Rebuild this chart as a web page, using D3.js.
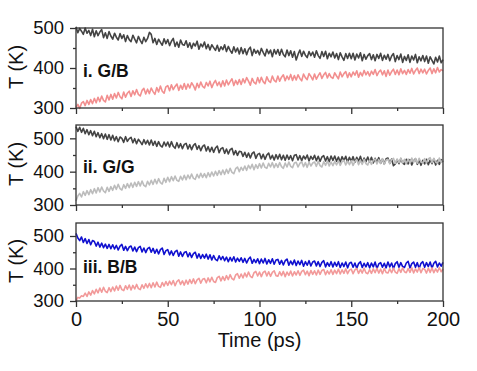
<!DOCTYPE html>
<html>
<head>
<meta charset="utf-8">
<script src="https://cdn.jsdelivr.net/npm/d3@7"></script>
<style>
body { margin: 0; background: #fff; }
text { font-family: Arial, "Liberation Sans", sans-serif; fill: #111; }
</style>
</head>
<body>
<svg id="chart" width="477" height="371"></svg>
<script>
// one sample per ps, 0..200
var timeStep = 1;
var xTicks = [0, 50, 100, 150, 200];
var xMinorTicks = [25, 75, 125, 175];
var yTicks = [300, 400, 500];
var yMinorTicks = [350, 450];
var panelNames = ["i. G/B", "ii. G/G", "iii. B/B"];

// panel i: hot G, cold B
var gbHot = [503,488,499,492,484,500,487,494,481,497,
	478,493,481,490,496,476,488,474,491,480,
	472,487,477,470,486,474,483,466,481,471,
	466,482,472,463,479,469,461,477,466,474,
	489,484,463,474,459,472,464,457,473,461,
	471,456,467,474,454,465,452,470,459,457,
	468,452,463,449,462,455,467,447,460,453,
	465,448,459,445,458,451,444,457,442,453,
	446,458,441,454,444,437,453,440,450,435,
	451,436,448,433,446,452,431,447,437,444,
	433,449,439,430,447,436,445,428,446,435,
	446,432,447,434,428,445,431,443,427,441,
	420,434,445,429,442,432,426,441,431,440,
	427,443,431,424,441,429,442,423,437,428,
	440,425,436,421,438,428,419,436,424,437,
	423,437,420,435,425,438,418,434,422,431,
	436,421,433,418,434,424,437,419,432,422,
	434,418,430,436,416,431,421,435,414,429,
	419,433,414,430,420,434,413,428,418,431,
	416,430,412,428,419,410,427,415,430,413,
	421];
var gbCold = [301,309,299,312,316,306,319,309,321,311,
	324,313,327,316,330,319,315,332,320,334,
	322,336,325,339,328,323,340,327,337,342,
	329,343,333,346,334,330,344,349,335,347,
	336,350,341,334,351,340,355,342,337,353,
	356,343,358,346,354,360,344,357,347,361,
	347,360,350,363,356,345,362,351,365,354,
	350,364,355,367,351,362,369,356,365,353,
	368,355,370,358,366,373,356,369,359,371,
	359,373,363,376,367,357,374,364,360,376,
	363,377,366,361,378,368,364,380,369,365,
	380,367,377,383,368,380,371,384,369,381,
	370,383,374,368,385,376,371,386,379,370,
	385,372,381,388,374,383,389,375,386,377,
	374,388,380,373,390,378,386,391,376,388,
	378,390,382,393,377,389,380,394,383,391,
	380,392,384,396,381,390,395,383,393,379,
	395,382,391,397,384,395,383,398,386,394,
	384,396,387,399,385,394,400,386,397,388,
	397,385,394,400,386,398,388,401,390,396,
	393];

// panel ii: hot G, cold G
var ggHot = [535,521,533,518,530,514,526,511,523,508,
	521,505,517,502,514,499,513,497,511,495,
	509,493,505,490,504,500,488,505,491,499,
	503,487,499,484,497,490,481,496,483,494,
	480,495,479,491,476,490,478,474,489,477,
	489,474,490,476,470,487,472,484,469,482,
	485,468,481,466,479,484,467,478,463,476,
	480,462,475,460,473,458,471,477,457,469,
	472,455,468,453,466,470,451,463,449,461,
	460,446,458,443,456,441,455,459,440,452,
	455,439,452,437,450,456,438,449,435,451,
	438,452,436,449,434,450,437,448,433,449,
	451,435,448,433,447,438,450,432,446,437,
	449,433,446,431,444,448,432,445,430,447,
	434,447,431,444,429,445,433,446,428,443,
	431,445,428,443,432,446,427,441,430,444,
	429,443,426,440,428,442,425,438,423,439,
	441,425,438,418,423,436,424,439,426,422,
	437,423,436,420,433,439,422,435,419,434,
	423,437,421,435,424,438,420,434,422,436,
	429];
var ggCold = [312,327,335,324,340,329,343,331,346,334,
	349,336,352,339,354,342,337,353,341,355,
	344,359,347,362,349,345,361,350,364,352,
	366,353,368,356,370,357,372,359,355,371,
	360,374,362,377,364,379,367,363,380,368,
	383,370,385,373,387,374,371,386,375,389,
	376,390,379,393,380,377,392,381,395,383,
	394,382,397,385,399,387,401,389,403,391,
	405,392,407,395,410,398,394,409,414,400,
	413,404,417,404,419,409,422,406,421,410,
	424,411,426,413,410,425,414,427,412,424,
	413,427,415,410,426,414,429,416,412,426,
	428,414,425,430,415,427,413,429,417,426,
	429,416,431,418,414,430,419,432,417,429,
	418,431,420,433,419,430,434,420,432,421,
	433,419,431,436,421,434,422,437,424,420,
	435,422,434,438,423,436,425,439,422,435,
	437,424,436,440,425,438,427,441,426,437,
	424,438,426,441,428,439,425,440,429,426,
	439,426,438,442,427,440,429,425,441,428,
	436];

// panel iii: hot B, cold B
var bbHot = [508,494,486,497,480,492,477,489,473,486,
	483,469,481,466,478,464,475,462,474,461,
	473,460,471,457,469,474,456,468,455,466,
	469,454,466,452,464,468,451,463,449,461,
	465,450,462,447,459,445,458,463,443,455,
	458,442,454,440,452,456,438,451,437,449,
	452,436,448,434,446,450,432,445,431,443,
	432,444,429,442,426,440,428,424,439,427,
	437,424,435,421,434,423,436,420,432,422,
	433,419,431,417,429,435,416,428,418,430,
	415,429,417,431,414,427,416,430,413,426,
	428,413,425,411,424,429,410,423,412,426,
	409,423,412,425,407,421,410,424,408,420,
	423,408,421,406,419,424,405,418,407,421,
	405,419,407,421,403,417,406,420,402,416,
	419,404,417,401,415,421,403,416,405,418,
	402,417,405,420,400,414,418,404,416,402,
	420,405,417,400,415,421,404,418,406,403,
	417,422,402,415,420,404,418,400,416,421,
	404,418,406,420,401,416,422,405,417,407,
	419];
var bbCold = [300,311,309,316,314,324,314,328,318,332,
	322,336,325,340,327,342,330,326,341,329,
	343,331,346,333,348,335,332,347,336,349,
	334,348,337,351,338,335,350,339,353,341,
	354,341,356,343,358,345,342,357,346,360,
	348,361,350,363,347,360,365,351,362,349,
	364,352,366,354,368,353,365,370,355,367,
	369,356,371,359,373,360,357,372,376,362,
	375,363,378,366,381,369,365,380,384,370,
	383,371,386,374,389,376,372,387,391,377,
	389,375,388,392,377,390,376,388,393,378,
	376,390,378,391,375,389,379,392,377,390,
	380,393,379,391,395,381,392,378,394,382,
	393,380,395,382,394,397,381,393,383,396,
	382,395,384,398,383,396,385,399,384,395,
	398,384,396,400,385,397,386,401,387,384,
	397,385,399,387,401,386,398,384,400,388,
	386,399,387,401,389,385,400,388,402,390,
	387,400,388,402,386,399,389,403,387,400,
	398,386,401,388,402,387,399,389,403,390,
	399];

var time = gbHot.map(function(d, i) { return i * timeStep; });

var panels = [
	{top: 28, bottom: 108, yMax: 500, hot: gbHot, cold: gbCold, hotColor: "#444", coldColor: "#f28f8f", labelY: 77},
	{top: 125, bottom: 205, yMax: 540, hot: ggHot, cold: ggCold, hotColor: "#444", coldColor: "#bcbcbc", labelY: 173},
	{top: 223, bottom: 301, yMax: 540, hot: bbHot, cold: bbCold, hotColor: "#1010cf", coldColor: "#f29a9a", labelY: 273}
];

var svg = d3.select("#chart");
var x = d3.scaleLinear().domain([0, 200]).range([76, 443]);

function drawPanel(p, i) {
	var y = d3.scaleLinear().domain([300, p.yMax]).range([p.bottom, p.top]);
	var g = svg.append("g");
	var line = d3.line()
		.x(function(d, k) { return x(time[k]); })
		.y(function(d) { return y(d); });

	g.append("path").datum(p.hot)
		.attr("d", line)
		.attr("fill", "none")
		.attr("stroke", p.hotColor)
		.attr("stroke-width", 1.6)
		.attr("stroke-linejoin", "round");
	g.append("path").datum(p.cold)
		.attr("d", line)
		.attr("fill", "none")
		.attr("stroke", p.coldColor)
		.attr("stroke-width", 1.6)
		.attr("stroke-linejoin", "round");

	// box round the panel
	g.append("rect")
		.attr("x", x(0))
		.attr("y", p.top)
		.attr("width", x(200) - x(0))
		.attr("height", p.bottom - p.top)
		.attr("fill", "none")
		.attr("stroke", "#333")
		.attr("stroke-width", 1.3);

	var yAxis = g.append("g").attr("transform", "translate(" + x(0) + ",0)")
		.call(d3.axisLeft(y).tickValues(yTicks).tickSize(6).tickPadding(6).tickSizeOuter(0));
	g.append("g").attr("transform", "translate(" + x(0) + ",0)")
		.call(d3.axisLeft(y).tickValues(yMinorTicks).tickSize(3).tickFormat("").tickSizeOuter(0));

	var xAxis = g.append("g").attr("transform", "translate(0," + p.bottom + ")")
		.call(d3.axisBottom(x).tickValues(xTicks).tickSize(6).tickPadding(5).tickSizeOuter(0));
	g.append("g").attr("transform", "translate(0," + p.bottom + ")")
		.call(d3.axisBottom(x).tickValues(xMinorTicks).tickSize(3).tickFormat("").tickSizeOuter(0));

	g.selectAll(".domain").remove();
	g.selectAll(".tick line").attr("stroke", "#333").attr("stroke-width", 1.3);
	yAxis.selectAll("text").style("font-size", "18.5px").attr("fill", "#111");
	if (i < panels.length - 1) {
		xAxis.selectAll("text").remove();
	} else {
		xAxis.selectAll("text").style("font-size", "20px").attr("fill", "#111");
	}

	svg.append("text")
		.attr("transform", "translate(23," + ((p.top + p.bottom) / 2 - 1) + ") rotate(-90)")
		.attr("text-anchor", "middle")
		.style("font-size", "20px")
		.text("T (K)");

	svg.append("text")
		.attr("x", 83)
		.attr("y", p.labelY)
		.style("font-size", "17.5px")
		.style("font-weight", "bold")
		.text(panelNames[i]);
}

panels.forEach(drawPanel);

svg.append("text")
	.attr("x", (x(0) + x(200)) / 2)
	.attr("y", 347)
	.attr("text-anchor", "middle")
	.style("font-size", "20px")
	.text("Time (ps)");
</script>
</body>
</html>
